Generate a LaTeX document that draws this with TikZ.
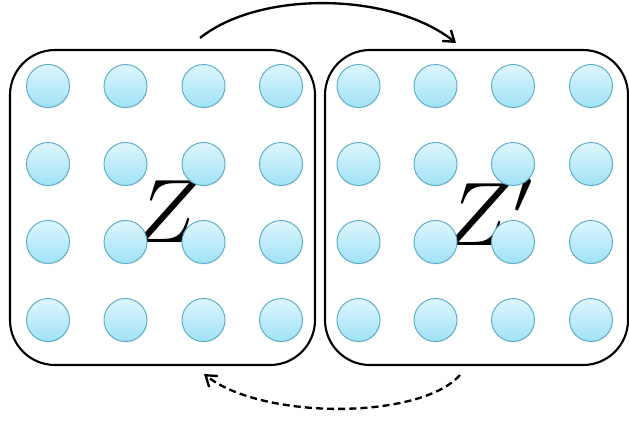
\documentclass[tikz,border=0pt]{standalone}
\usepackage{xcolor}
\usepackage{tikz}
\definecolor{dottop}{RGB}{222,246,253}
\definecolor{dotbot}{RGB}{160,226,246}
\definecolor{dotline}{RGB}{90,172,200}
\usetikzlibrary{arrows.meta, positioning, shadows}

\begin{document}
\begin{tikzpicture}[
  x=0.03cm, y=-0.03cm,
  panel/.style={draw, line width=1.8pt, rounded corners=1.35cm, minimum height=9.45cm, inner sep=0pt},
  dot/.style={circle, draw=dotline, line width=0.8pt, top color=dottop, bottom color=dotbot, minimum size=1.29cm, inner sep=0pt,
    drop shadow={opacity=0.15, shadow xshift=0.4pt, shadow yshift=-0.9pt}},
  bigsym/.style={inner sep=0pt},
  fwd/.style={-{Straight Barb[length=3mm, width=4.2mm]}, line width=2pt},
  back/.style={-{Straight Barb[length=3mm, width=4.2mm]}, line width=2pt, dash pattern=on 6pt off 3.5pt}
]

  % Fix the page to the reference size
  \useasboundingbox (0,0) rectangle (629,422);

  % Two rounded panels
  \node[panel, minimum width=9.15cm] (lbox) at (162.5,207.5) {};
  \node[panel, minimum width=9.09cm] (rbox) at (476.5,207.5) {};

  % Panel labels
  \node[bigsym] (zl) at (168,212) {\scalebox{7.7}{$Z$}};
  \node[bigsym] (zr) at (491,212) {\scalebox{7.7}{$Z'$}};

  % Grid of dots in each panel
  \foreach \r/\y in {1/86, 2/164, 3/242, 4/320} {
    \foreach \c/\x in {1/48, 2/125.5, 3/203.5, 4/281} {
      \node[dot] (l\r\c) at (\x,\y) {};
    }
    \foreach \c/\x in {1/358.5, 2/435.5, 3/513, 4/591} {
      \node[dot] (r\r\c) at (\x,\y) {};
    }
  }

  % Mapping arrows between the panels
  \coordinate (fwdstart) at (200,38);
  \coordinate (fwdend)   at (456,43);
  \coordinate (backstart) at (460,375);
  \coordinate (backend)   at (204,374);
  \draw[fwd] (fwdstart) .. controls (260,-10) and (392,-8) .. (fwdend);
  \draw[back] (backstart) .. controls (420,420) and (262,420) .. (backend);

\end{tikzpicture}
\end{document}
